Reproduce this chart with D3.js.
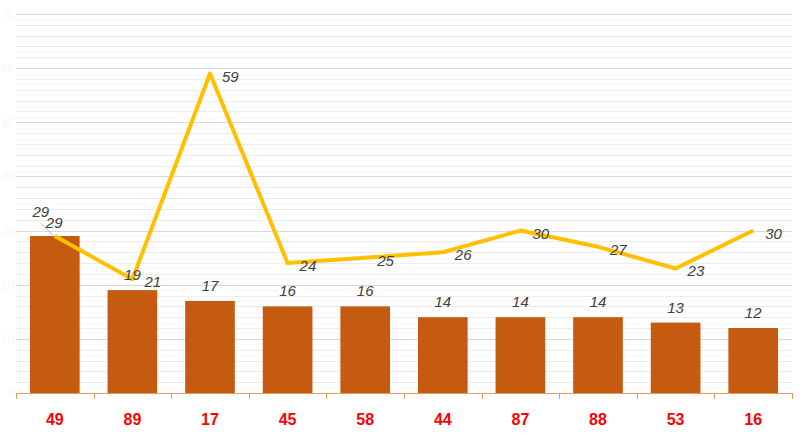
<!DOCTYPE html>
<html>
<head>
<meta charset="utf-8">
<script src="https://cdn.jsdelivr.net/npm/d3@7"></script>
<style>
  html, body { margin: 0; padding: 0; background: #fff; }
  svg { display: block; }
</style>
</head>
<body>
<svg id="chart" width="807" height="438"></svg>
<script>
const categories = ["49", "89", "17", "45", "58", "44", "87", "88", "53", "16"];
const barValues  = [29, 19, 17, 16, 16, 14, 14, 14, 13, 12];
const lineValues = [29, 21, 59, 24, 25, 26, 30, 27, 23, 30];
const yMajorTicks = [0, 10, 20, 30, 40, 50, 60, 70];

(function () {
const svg = d3.select("#chart");
const plotLeft = 16, plotRight = 792, plotTop = 14, plotBottom = 393;

const x = d3.scaleBand().domain(categories).range([plotLeft, plotRight])
  .paddingInner(0.36).paddingOuter(0.18);
const y = d3.scaleLinear().domain([0, 70]).range([plotBottom, plotTop]);

// fine grid (odd values, very faint)
const fine = d3.range(1, 70, 2);
svg.append("g").selectAll("line").data(fine).join("line")
  .attr("x1", plotLeft).attr("x2", plotRight)
  .attr("y1", d => Math.round(y(d)) + 0.5).attr("y2", d => Math.round(y(d)) + 0.5)
  .attr("stroke", "#f9f9f9").attr("stroke-width", 1);
// minor grid (every 2)
const minor = d3.range(2, 70, 2).filter(v => v % 10 !== 0);
svg.append("g").selectAll("line").data(minor).join("line")
  .attr("x1", plotLeft).attr("x2", plotRight)
  .attr("y1", d => Math.round(y(d)) + 0.5).attr("y2", d => Math.round(y(d)) + 0.5)
  .attr("stroke", "#ececec").attr("stroke-width", 1);
// major grid
svg.append("g").selectAll("line").data(yMajorTicks.filter(v => v > 0)).join("line")
  .attr("x1", plotLeft).attr("x2", plotRight)
  .attr("y1", d => Math.round(y(d)) + 0.5).attr("y2", d => Math.round(y(d)) + 0.5)
  .attr("stroke", "#d9d9d9").attr("stroke-width", 1);

// faint y axis labels
svg.append("g").selectAll("text").data(yMajorTicks).join("text")
  .attr("x", 14).attr("y", d => y(d) + 4)
  .attr("text-anchor", "end")
  .attr("font-family", "Liberation Sans, Arial, sans-serif")
  .attr("font-size", 11).attr("fill", "#f6f6f6")
  .text(d => d);

// bars
svg.append("g").selectAll("rect").data(barValues).join("rect")
  .attr("x", (d, i) => x(categories[i]))
  .attr("y", d => y(d))
  .attr("width", x.bandwidth())
  .attr("height", d => y(0) - y(d))
  .attr("fill", "#C55A11");

// x axis baseline and ticks
const axisColor = "#ED9A5E";
svg.append("line").attr("x1", plotLeft).attr("x2", plotRight)
  .attr("y1", plotBottom + 0.5).attr("y2", plotBottom + 0.5)
  .attr("stroke", axisColor).attr("stroke-width", 1);
const bounds = categories.map(c => x(c) - x.step() * x.paddingInner() / 2).concat([plotRight]);
svg.append("g").selectAll("line").data(bounds).join("line")
  .attr("x1", d => Math.round(d) + 0.5).attr("x2", d => Math.round(d) + 0.5)
  .attr("y1", plotBottom).attr("y2", plotBottom + 6)
  .attr("stroke", axisColor).attr("stroke-width", 1);

// category labels
svg.append("g").selectAll("text").data(categories).join("text")
  .attr("x", d => x(d) + x.bandwidth() / 2)
  .attr("y", 425)
  .attr("text-anchor", "middle")
  .attr("font-family", "Liberation Sans, Arial, sans-serif")
  .attr("font-weight", "bold")
  .attr("font-size", 16)
  .attr("fill", "#FF0000")
  .text(d => d);

const cx = i => x(categories[i]) + x.bandwidth() / 2;

// line
const line = d3.line().x((d, i) => cx(i)).y(d => y(d));
svg.append("path").datum(lineValues)
  .attr("d", line)
  .attr("fill", "none")
  .attr("stroke", "#FFC000")
  .attr("stroke-width", 4)
  .attr("stroke-linejoin", "round");

// leader line for first bar label (moved label)
svg.append("line")
  .attr("x1", cx(0) - 14).attr("y1", y(barValues[0]) - 13)
  .attr("x2", cx(0) - 2).attr("y2", y(barValues[0]) - 1)
  .attr("stroke", "#a6a6a6").attr("stroke-width", 0.8);

const labelFont = "Liberation Sans, Arial, sans-serif";
// bar labels
svg.append("g").selectAll("text").data(barValues).join("text")
  .attr("x", (d, i) => cx(i) + (i === 0 ? -14 : 0))
  .attr("y", (d, i) => y(d) - (i === 0 ? 19 : 10))
  .attr("text-anchor", "middle")
  .attr("font-family", labelFont)
  .attr("font-style", "italic")
  .attr("font-size", 15)
  .attr("fill", "#404040")
  .text(d => d);

// line labels
svg.append("g").selectAll("text").data(lineValues).join("text")
  .attr("x", (d, i) => cx(i) + (i === 0 ? -9 : 12))
  .attr("y", (d, i) => y(d) + (i === 0 ? -8 : 8))
  .attr("text-anchor", "start")
  .attr("font-family", labelFont)
  .attr("font-style", "italic")
  .attr("font-size", 15)
  .attr("fill", "#404040")
  .text(d => d);
})();
</script>
</body>
</html>
